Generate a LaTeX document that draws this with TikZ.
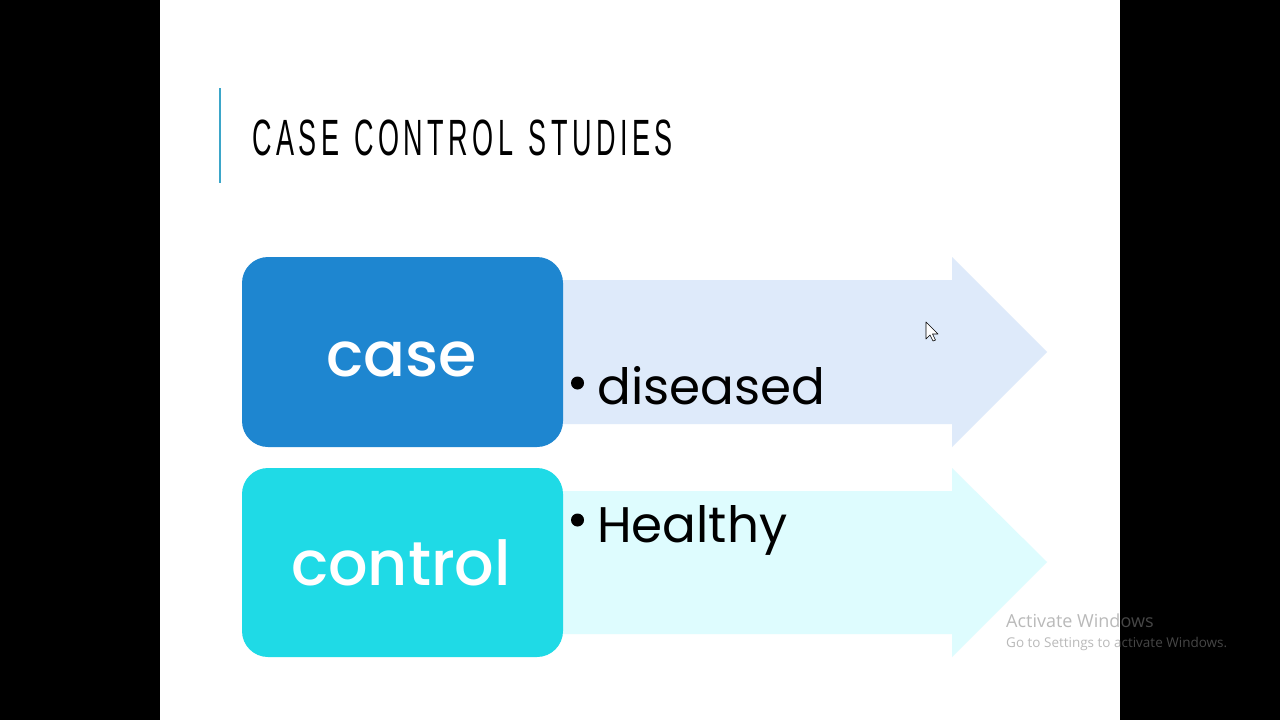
\documentclass[tikz,border=0pt]{standalone}
\usepackage{fontspec}
\setmainfont{Poppins}
\newfontfamily\boxfont{Poppins Medium}
\newfontfamily\titlefont{Liberation Sans}
\newfontfamily\wmfont{Open Sans}
\definecolor{casecol}{RGB}{30,134,208}
\definecolor{ctrlcol}{RGB}{31,218,230}
\definecolor{arrowA}{RGB}{222,234,250}
\definecolor{arrowB}{RGB}{222,252,254}
\definecolor{titleline}{RGB}{59,166,201}
\tikzset{
  box/.style={rounded corners=26pt},
  boxlabel/.style={text=white, font=\boxfont\fontsize{62}{62}\selectfont, inner sep=0pt, anchor=base},
  itemtext/.style={text=black, font=\fontsize{50}{50}\selectfont, inner sep=0pt, anchor=base west},
  bulletdot/.style={circle, fill=black, inner sep=0pt, minimum size=13pt},
  wmtext/.style={anchor=base west, inner sep=0pt, text=gray, text opacity=0.55},
}
\begin{document}
\begin{tikzpicture}[x=1pt,y=-1pt]
\useasboundingbox (0,0) rectangle (1280,720);
% black margins and slide
\fill[black] (0,0) rectangle (1280,720);
\fill[white] (160,0) rectangle (1120,720);
% title
\draw[titleline, line width=1.5pt] (220,88) -- (220,183);
\node[anchor=base west, inner sep=0pt, font=\titlefont\fontsize{51}{51}\selectfont] (title) at (252,155) {\scalebox{0.53}[1]{C\,A\,S\,E\ \ C\,O\,N\,T\,R\,O\,L\ \ S\,T\,U\,D\,I\,E\,S}};
% arrows
\fill[arrowA] (560,280) -- (952,280) -- (952,257) -- (1047,352) -- (952,447) -- (952,424) -- (560,424) -- cycle;
\fill[arrowB] (560,491) -- (952,491) -- (952,468) -- (1047,562) -- (952,657) -- (952,634) -- (560,634) -- cycle;
% boxes
\fill[casecol, box] (242,257) rectangle (563,447);
\fill[ctrlcol, box] (242,468) rectangle (563,657);
\node[boxlabel] (case) at (401.5,376) {case};
\node[boxlabel] (control) at (401,585) {control};
% items
\node[bulletdot] (b1) at (577.5,383) {};
\node[itemtext] (diseased) at (597,404) {diseased};
\node[bulletdot] (b2) at (577.5,520) {};
\node[itemtext] (healthy) at (597,542) {Healthy};
% cursor
\draw[black, fill=white, line width=0.6pt, line join=round] (926,322) -- (926,339) -- (930,335) -- (933,341) -- (935.5,340) -- (932.5,334) -- (938,334) -- cycle;
% watermark
\node[wmtext, font=\wmfont\fontsize{18}{18}\selectfont] (wm1) at (1006,627) {Activate Windows};
\node[wmtext, font=\wmfont\fontsize{13.5}{13.5}\selectfont] (wm2) at (1006,647) {Go to Settings to activate Windows.};
\end{tikzpicture}
\end{document}
